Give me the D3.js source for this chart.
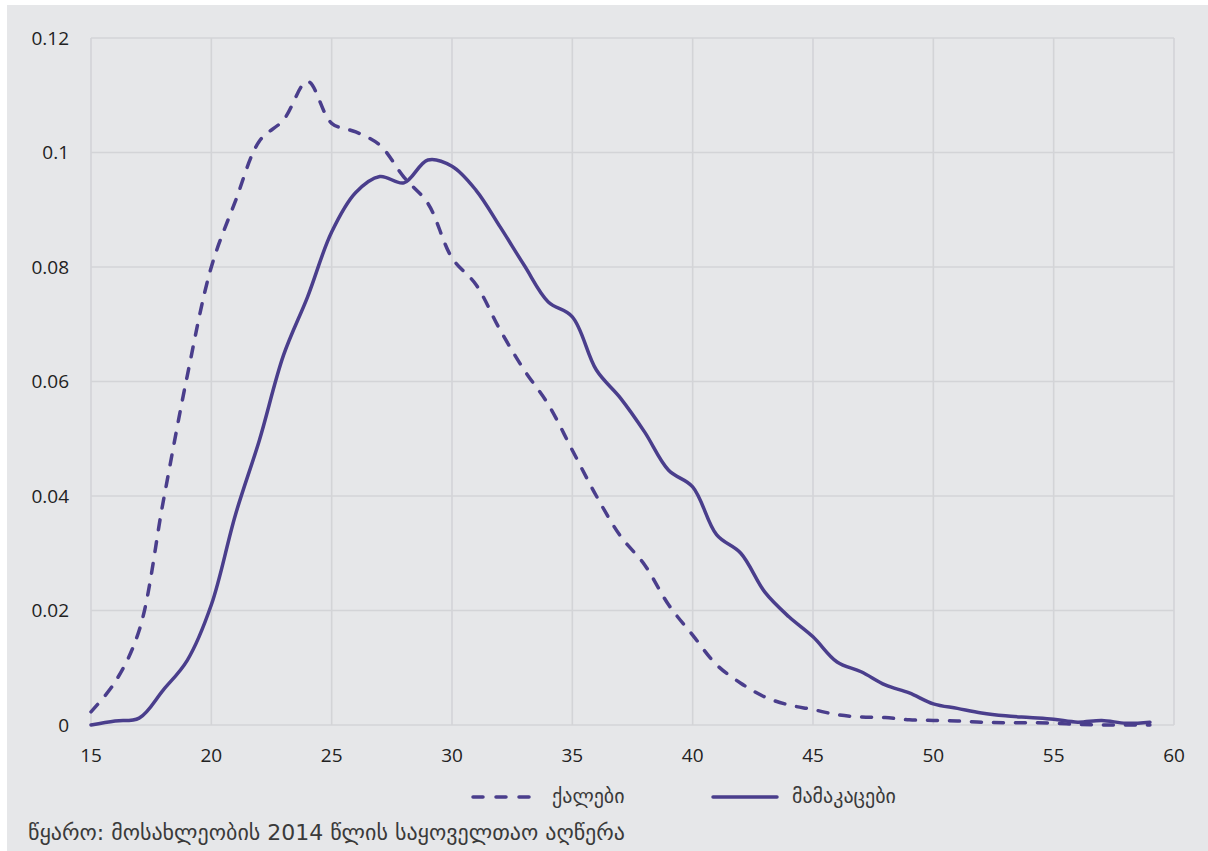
<!DOCTYPE html>
<html><head><meta charset="utf-8">
<script src="https://cdn.jsdelivr.net/npm/d3@7"></script>
<style>
html,body{margin:0;padding:0;background:#fff;}
svg{display:block;}
</style></head>
<body>
<svg id="chart" width="1208" height="851"></svg>
<script>
const ages = d3.range(15, 60);
const women = [0.0023,0.0075,0.0165,0.0390,0.0610,0.0800,0.0915,0.1020,0.1057,0.1124,0.1051,0.1036,0.1013,0.0957,0.0911,0.0816,0.0769,0.0690,0.0620,0.0560,0.0480,0.0400,0.0330,0.0280,0.0210,0.0157,0.0105,0.0073,0.0049,0.0035,0.0027,0.0018,0.0014,0.0013,0.0009,0.0008,0.0007,0.0005,0.0004,0.0004,0.0003,0.0001,0.0000,0.0000,0.0000];
const men = [0.0000,0.0007,0.0012,0.0061,0.0113,0.0210,0.0367,0.0498,0.0646,0.0748,0.0861,0.0930,0.0958,0.0947,0.0987,0.0976,0.0934,0.0870,0.0803,0.0739,0.0713,0.0620,0.0571,0.0512,0.0445,0.0416,0.0332,0.0300,0.0232,0.0189,0.0154,0.0110,0.0093,0.0070,0.0056,0.0037,0.0029,0.0021,0.0016,0.0013,0.0010,0.0005,0.0008,0.0003,0.0005];
const xTicks = [15,20,25,30,35,40,45,50,55,60];
const yTicks = [0,0.02,0.04,0.06,0.08,0.1,0.12];
const yTickLabels = ["0","0.02","0.04","0.06","0.08","0.1","0.12"];
const seriesNames = ["ქალები","მამაკაცები"];
const sourceText = "წყარო: მოსახლეობის 2014 წლის საყოველთაო აღწერა";

const color = "#4a3e8c";
const grid = "#d3d4d7";
const svg = d3.select("#chart");
svg.append("rect").attr("x",7).attr("y",5).attr("width",1201).attr("height",846).attr("fill","#e6e7e9");

const x = d3.scaleLinear().domain([15,60]).range([91,1174]);
const y = d3.scaleLinear().domain([0,0.12]).range([725,38]);

const g = svg.append("g");
g.selectAll("line.v").data(xTicks).join("line")
  .attr("x1",d=>x(d)).attr("x2",d=>x(d)).attr("y1",y(0)).attr("y2",y(0.12))
  .attr("stroke",grid).attr("stroke-width",1.6);
g.selectAll("line.h").data(yTicks).join("line").attr("class","h")
  .attr("x1",x(15)).attr("x2",x(60)).attr("y1",d=>y(d)).attr("y2",d=>y(d))
  .attr("stroke",grid).attr("stroke-width",1.6);

const font = "'Open Sans', 'DejaVu Sans', sans-serif";
g.selectAll("text.yt").data(yTicks).join("text")
  .attr("x",69).attr("y",d=>y(d)).attr("dy","0.36em").attr("text-anchor","end")
  .attr("font-family",font).attr("font-size",19).attr("fill","#222").text((d,i)=>yTickLabels[i]);
g.selectAll("text.xt").data(xTicks).join("text")
  .attr("x",d=>x(d)).attr("y",762).attr("text-anchor","middle")
  .attr("font-family",font).attr("font-size",19).attr("fill","#222").text(d=>d);

const line = d3.line().x((d,i)=>x(ages[i])).y(d=>y(d)).curve(d3.curveCatmullRom.alpha(0.5));
svg.append("path").attr("d",line(women)).attr("fill","none").attr("stroke",color)
  .attr("stroke-width",3.5).attr("stroke-dasharray","10,12").attr("stroke-linecap","round");
svg.append("path").attr("d",line(men)).attr("fill","none").attr("stroke",color)
  .attr("stroke-width",3.5).attr("stroke-linecap","round");

// legend
const gf = "'DejaVu Sans', 'Noto Sans', sans-serif";
svg.append("line").attr("x1",473).attr("x2",539).attr("y1",797).attr("y2",797)
  .attr("stroke",color).attr("stroke-width",3.5).attr("stroke-dasharray","10,13").attr("stroke-linecap","round");
svg.append("text").attr("x",552).attr("y",803).attr("font-family",gf).attr("font-size",20).attr("fill","#3a3a3a").text(seriesNames[0]);
svg.append("line").attr("x1",713).attr("x2",777).attr("y1",797).attr("y2",797)
  .attr("stroke",color).attr("stroke-width",3.5).attr("stroke-linecap","round");
svg.append("text").attr("x",792).attr("y",803).attr("font-family",gf).attr("font-size",20).attr("fill","#3a3a3a").text(seriesNames[1]);

svg.append("text").attr("x",28).attr("y",840).attr("font-family",gf).attr("font-size",22).attr("fill","#3a3a3a").text(sourceText);
</script>
</body></html>
